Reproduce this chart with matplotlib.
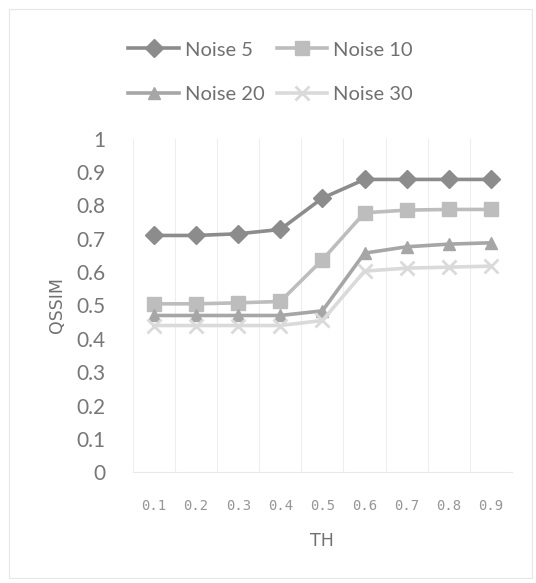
import matplotlib.pyplot as plt
from matplotlib.patches import Rectangle

th = ['0.1', '0.2', '0.3', '0.4', '0.5', '0.6', '0.7', '0.8', '0.9']
noise5 = [0.71, 0.71, 0.715, 0.728, 0.822, 0.878, 0.878, 0.878, 0.878]
noise10 = [0.505, 0.505, 0.508, 0.512, 0.637, 0.778, 0.786, 0.788, 0.788]
noise20 = [0.47, 0.47, 0.47, 0.47, 0.484, 0.657, 0.676, 0.684, 0.688]
noise30 = [0.44, 0.44, 0.44, 0.44, 0.455, 0.603, 0.612, 0.615, 0.618]

plt.rcParams['font.family'] = ['Lato', 'DejaVu Sans']

fig = plt.figure(figsize=(5.36, 5.83), dpi=100)
ax = fig.add_axes([0.248, 0.19, 0.707, 0.572])

# рамка вокруг всей диаграммы
fig.patches.append(Rectangle((0.017, 0.008), 0.975, 0.977, transform=fig.transFigure,
                             fill=False, edgecolor='#e6e6e6', linewidth=0.8))

x = list(range(len(th)))
series = [
    ('Noise 5', noise5, '#8c8c8c', 'D', 9),
    ('Noise 10', noise10, '#bdbdbd', 's', 10),
    ('Noise 20', noise20, '#a6a6a6', '^', 9),
    ('Noise 30', noise30, '#dadada', 'x', 10),
]
lines = []
for name, vals, col, mk, ms in series:
    ln, = ax.plot(x, vals, color=col, linewidth=2.6, marker=mk, markersize=ms,
                  markeredgecolor=col, markerfacecolor=col,
                  markeredgewidth=2 if mk == 'x' else 1, label=name)
    lines.append(ln)

ax.set_xlim(-0.5, len(th) - 0.5)
ax.set_ylim(0, 1)
ax.set_yticks([i / 10 for i in range(11)])
ax.set_yticklabels(['0', '0.1', '0.2', '0.3', '0.4', '0.5', '0.6', '0.7', '0.8', '0.9', '1'])
ax.set_xticks(x)
ax.set_xticklabels(th, family='DejaVu Sans Mono', fontsize=10, color='#959595')

# вертикальная сетка по границам категорий
for b in range(len(th) + 1):
    ax.axvline(b - 0.5, color='#eeeeee', linewidth=0.8, zorder=0)

for s in ['top', 'right', 'left']:
    ax.spines[s].set_visible(False)
ax.spines['bottom'].set_color('#e8e8e8')
ax.tick_params(axis='both', length=0)
ax.tick_params(axis='y', labelsize=15, labelcolor='#777777', pad=20)
ax.tick_params(axis='x', pad=19)

ax.set_xlabel('TH', fontsize=12.5, color='#707070', family='DejaVu Sans', labelpad=14)
ax.set_ylabel('QSSIM', fontsize=12.5, color='#707070', family='DejaVu Sans', labelpad=7)

# легенда по строкам: 5, 10 / 20, 30
order = [0, 2, 1, 3]
fig.legend([lines[i] for i in order], [series[i][0] for i in order],
           loc='upper center', bbox_to_anchor=(0.505, 0.96), ncol=2, frameon=False,
           fontsize=14.5, labelcolor='#707070', handlelength=2.5, handletextpad=0.3,
           columnspacing=0.6, labelspacing=1.35)

fig.savefig('out.png', dpi=100, facecolor='white')
